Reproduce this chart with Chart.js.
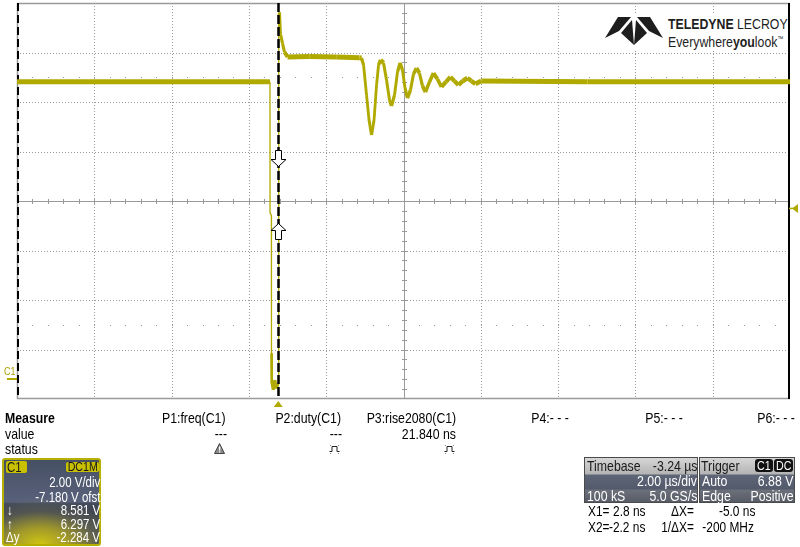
<!DOCTYPE html>
<html>
<head>
<meta charset="utf-8">
<script src="https://cdn.jsdelivr.net/npm/chart.js@4.4.1/dist/chart.umd.min.js"></script>
<style>
  html,body{margin:0;padding:0;background:#fff;}
  #wrap{position:relative;width:800px;height:547px;overflow:hidden;background:#fff;}
  #c{position:absolute;left:0;top:0;}
  .t{position:absolute;white-space:nowrap;font-family:"Liberation Sans Narrow","Arial Narrow",sans-serif;line-height:16px;color:#000;}
  .fb .t{font-family:"Liberation Sans",Arial,sans-serif;transform:scaleX(0.82);}
  .fb .t.l{transform-origin:left center;}
  .fb .t.r{transform-origin:right center;}
  .box{position:absolute;box-sizing:border-box;}
  .w{color:#fff;}
</style>
</head>
<body>
<div id="wrap">
  <canvas id="c" width="800" height="547"></canvas>

  <!-- logo -->
  <div class="box" style="left:600px;top:13px;width:188px;height:37px;background:#fff;"></div>
  <svg class="box" style="left:0;top:0" width="800" height="60">
    <g fill="#1e1e1e">
      <polygon points="605,38 618,17 631,17 619,31"/>
      <polygon points="621,33 632,20 634,45"/>
      <polygon points="663,38 650,17 637,17 649,31"/>
      <polygon points="647,33 636,20 634,45"/>
    </g>
  </svg>
  <div class="t l" style="left:668px;top:16px;font-size:15px;color:#1e1e1e;"><b>TELEDYNE</b> LECROY</div>
  <div class="t l" style="left:668px;top:31px;font-size:15px;color:#1e1e1e;">Everywhere<b>you</b>look<span style="font-size:7px;vertical-align:6px">™</span></div>

  <!-- channel ground label -->
  <div class="t l" style="left:4px;top:365px;font-size:11px;line-height:12px;color:#a8a000;">C1</div>

  <!-- measure table -->
  <div class="t l" style="left:5px;top:410px;font-size:15px;font-weight:bold;">Measure</div>
  <div class="t r" style="right:574px;top:410px;font-size:15px;">P1:freq(C1)</div>
  <div class="t r" style="right:459px;top:410px;font-size:15px;">P2:duty(C1)</div>
  <div class="t r" style="right:344px;top:410px;font-size:15px;">P3:rise2080(C1)</div>
  <div class="t r" style="right:231px;top:410px;font-size:15px;">P4:- - -</div>
  <div class="t r" style="right:117px;top:410px;font-size:15px;">P5:- - -</div>
  <div class="t r" style="right:5px;top:410px;font-size:15px;">P6:- - -</div>

  <div class="t l" style="left:5px;top:426px;font-size:15px;">value</div>
  <div class="t r" style="right:573px;top:426px;font-size:15px;">---</div>
  <div class="t r" style="right:458px;top:426px;font-size:15px;">---</div>
  <div class="t r" style="right:344px;top:426px;font-size:15px;">21.840 ns</div>

  <div class="t l" style="left:5px;top:441px;font-size:15px;">status</div>
  <svg class="box" style="left:214px;top:443px" width="11" height="11">
    <polygon points="5.5,0.5 10.5,10.5 0.5,10.5" fill="#8a8a8a" stroke="#444" stroke-width="1"/>
    <rect x="5" y="3.5" width="1.3" height="4" fill="#fff"/>
    <rect x="5" y="8.3" width="1.3" height="1.2" fill="#fff"/>
  </svg>
  <svg class="box" style="left:329px;top:444px" width="11" height="10">
    <path d="M0.5,7.5 H3 V2.5 H8 V7.5 H10.5" stroke="#222" fill="none" stroke-width="1"/>
    <rect x="1" y="1" width="1" height="1" fill="#888"/><rect x="9" y="1" width="1" height="1" fill="#888"/>
    <rect x="1" y="9" width="1" height="1" fill="#888"/><rect x="9" y="9" width="1" height="1" fill="#888"/>
  </svg>
  <svg class="box" style="left:444px;top:444px" width="11" height="10">
    <path d="M0.5,7.5 H3 V2.5 H8 V7.5 H10.5" stroke="#222" fill="none" stroke-width="1"/>
    <rect x="1" y="1" width="1" height="1" fill="#888"/><rect x="9" y="1" width="1" height="1" fill="#888"/>
    <rect x="1" y="9" width="1" height="1" fill="#888"/><rect x="9" y="9" width="1" height="1" fill="#888"/>
  </svg>

  <!-- C1 channel box -->
  <div class="box" style="left:2px;top:458px;width:99px;height:88px;border:2px solid #b8b000;border-radius:3px;
       background:
        radial-gradient(ellipse 85% 55% at 38% 100%, rgba(206,196,18,1) 0%, rgba(176,166,36,0.85) 35%, rgba(120,118,80,0.35) 70%, rgba(60,64,76,0) 100%),
        linear-gradient(to bottom,#465064 0%,#58617a 50%,#434a5a 52%,#3e4452 62%,#55584e 100%);"></div>
  <div class="box" style="left:6px;top:461px;width:21px;height:12px;background:#c9c100;border-radius:2px;"></div>
  <div class="t l" style="left:7px;top:459px;font-size:14px;color:#1a1a1a;">C1</div>
  <div class="box" style="left:66px;top:462px;width:33px;height:10px;background:#c9c100;border-radius:2px;"></div>
  <div class="t r" style="right:702px;top:459px;font-size:13px;color:#1a1a1a;">DC1M</div>
  <div class="t r w" style="right:700px;top:474px;font-size:14px;">2.00 V/div</div>
  <div class="t r w" style="right:700px;top:489px;font-size:14px;">-7.180 V ofst</div>
  <div class="t l w" style="left:7px;top:502px;font-size:14px;">↓</div>
  <div class="t r w" style="right:700px;top:502px;font-size:14px;">8.581 V</div>
  <div class="t l w" style="left:7px;top:516px;font-size:14px;">↑</div>
  <div class="t r w" style="right:700px;top:516px;font-size:14px;">6.297 V</div>
  <div class="t l w" style="left:6px;top:529px;font-size:14px;">Δy</div>
  <div class="t r w" style="right:700px;top:529px;font-size:14px;">-2.284 V</div>

  <!-- Timebase box -->
  <div class="box" style="left:584px;top:457px;width:114px;height:46px;border:1px solid #4a4a4a;
       background:linear-gradient(to bottom,#d6d6d6 0px,#b4b4b4 16px,#5d6576 17px,#525a6b 31px,#6b707a 32px,#555a64 45px);"></div>
  <div class="t l" style="left:587px;top:458px;font-size:15px;color:#1a1a1a;">Timebase</div>
  <div class="t r" style="right:103px;top:458px;font-size:15px;color:#1a1a1a;">-3.24 µs</div>
  <div class="t r w" style="right:103px;top:473px;font-size:15px;">2.00 µs/div</div>
  <div class="t l w" style="left:587px;top:488px;font-size:15px;">100 kS</div>
  <div class="t r w" style="right:103px;top:488px;font-size:15px;">5.0 GS/s</div>

  <!-- Trigger box -->
  <div class="box" style="left:699px;top:457px;width:96px;height:46px;border:1px solid #4a4a4a;
       background:linear-gradient(to bottom,#d6d6d6 0px,#b4b4b4 16px,#5d6576 17px,#525a6b 31px,#6b707a 32px,#555a64 45px);"></div>
  <div class="t l" style="left:701px;top:458px;font-size:15px;color:#1a1a1a;">Trigger</div>
  <div class="box" style="left:755px;top:459px;width:18px;height:13px;background:#111;border-radius:3px;"></div>
  <div class="box" style="left:774px;top:459px;width:19px;height:13px;background:#111;border-radius:3px;"></div>
  <div class="t l w" style="left:757px;top:458px;font-size:13px;">C1</div>
  <div class="t l w" style="left:776px;top:458px;font-size:13px;">DC</div>
  <div class="t l w" style="left:702px;top:473px;font-size:15px;">Auto</div>
  <div class="t r w" style="right:7px;top:473px;font-size:15px;">6.88 V</div>
  <div class="t l w" style="left:702px;top:488px;font-size:15px;">Edge</div>
  <div class="t r w" style="right:6px;top:488px;font-size:15px;">Positive</div>

  <!-- cursor readouts -->
  <div class="t l" style="left:588px;top:503px;font-size:14.5px;">X1=</div>
  <div class="t r" style="right:155px;top:503px;font-size:14.5px;">2.8 ns</div>
  <div class="t r" style="right:106px;top:503px;font-size:14.5px;">ΔX=</div>
  <div class="t r" style="right:45px;top:503px;font-size:14.5px;">-5.0 ns</div>
  <div class="t l" style="left:588px;top:519px;font-size:14.5px;">X2=</div>
  <div class="t r" style="right:155px;top:519px;font-size:14.5px;">-2.2 ns</div>
  <div class="t r" style="right:106px;top:519px;font-size:14.5px;">1/ΔX=</div>
  <div class="t r" style="right:46px;top:519px;font-size:14.5px;">-200 MHz</div>
</div>

<script>
// ---------- scope settings ----------
const timePerDivUs = 2.0;      // 2.00 µs/div
const timebaseDelayUs = -3.24; // trigger 3.24 µs left of centre
const voltsPerDiv = 2.0;       // 2.00 V/div
const offsetV = -7.18;         // -7.180 V ofst
const hDivs = 10, vDivs = 8;
const triggerLevelV = 6.88;
const cursorX1Us = 0.0028, cursorX2Us = -0.0022;
const cursorY1V = 8.581, cursorY2V = 6.297;

// ---------- waveform C1 (time in µs, volts) ----------
const timeUs = [
  -6.76, -0.215,
  -0.213, -0.178, -0.176, -0.17, -0.13, -0.09, -0.05, -0.015,
  0.0, 0.012, 0.035, 0.06, 0.11, 0.16, 0.24, 0.8, 1.5, 2.1,
  2.155, 2.207, 2.284, 2.349, 2.413, 2.478, 2.543, 2.594, 2.646, 2.723,
  2.801, 2.878, 2.930, 3.007, 3.085, 3.150, 3.214, 3.279, 3.343, 3.421,
  3.499, 3.576, 3.653, 3.731, 3.809, 3.912, 4.015, 4.118, 4.222, 4.338,
  4.454, 4.558, 4.661, 4.777, 4.894, 4.997, 5.100, 5.256, 8.0, 13.24
];
const volts = [
  12.0, 12.0,
  6.7, 6.6, 1.0, -0.1, -0.45, -0.05, -0.4, -0.2,
  -0.2, 14.6, 14.8, 13.9, 13.55, 13.2, 13.0, 13.02, 13.0, 12.97,
  12.96, 12.67, 11.46, 10.45, 9.85, 10.45, 11.87, 12.67, 12.88, 12.76,
  12.07, 11.26, 11.02, 11.46, 12.39, 12.76, 12.47, 11.75, 11.34, 11.67,
  12.31, 12.55, 12.35, 11.83, 11.58, 11.99, 12.35, 12.11, 11.79, 11.99,
  12.19, 12.03, 11.87, 12.03, 12.15, 12.03, 11.91, 12.03, 12.0, 12.0
];

const TRACE = '#b0a900';
const GRID = '#9a9a9a';
const tCenter = -timebaseDelayUs;
const tMin = tCenter - hDivs / 2 * timePerDivUs;
const tMax = tCenter + hDivs / 2 * timePerDivUs;
const vCenter = -offsetV;
const vMin = vCenter - vDivs / 2 * voltsPerDiv;
const vMax = vCenter + vDivs / 2 * voltsPerDiv;

// font fallback detection
(function(){
  const c = document.createElement('canvas').getContext('2d');
  c.font = '20px monospace'; const w1 = c.measureText('abcdefghijMWxyz').width;
  c.font = '20px "Liberation Sans Narrow", monospace'; const w2 = c.measureText('abcdefghijMWxyz').width;
  if (Math.abs(w1 - w2) < 0.01) document.getElementById('wrap').classList.add('fb');
})();

function line(ctx, x1, y1, x2, y2){ ctx.beginPath(); ctx.moveTo(x1, y1); ctx.lineTo(x2, y2); ctx.stroke(); }

const scopePlugin = {
  id: 'scope',
  beforeDatasetsDraw(chart){
    const {ctx, chartArea: a, scales: {x, y}} = chart;
    const px = v => Math.round(x.getPixelForValue(v)) + 0.5;
    const py = v => Math.round(y.getPixelForValue(v)) + 0.5;
    ctx.save();
    ctx.lineWidth = 1; ctx.strokeStyle = GRID;
    ctx.setLineDash([1, 2]);
    for (let k = 1; k < hDivs; k++) { if (k === hDivs / 2) continue; const X = px(tMin + k * timePerDivUs); line(ctx, X, a.top, X, a.bottom); }
    for (let k = 1; k < vDivs; k++) { if (k === vDivs / 2) continue; const Y = py(vMin + k * voltsPerDiv); line(ctx, a.left, Y, a.right, Y); }
    ctx.setLineDash([]);
    const cx = px(tCenter), cy = py(vCenter);
    line(ctx, a.left, cy, a.right, cy);
    line(ctx, cx, a.top, cx, a.bottom);
    for (let k = 1; k < hDivs * 5; k++) { const X = px(tMin + k * timePerDivUs / 5); line(ctx, X, cy - 2.5, X, cy + 2.5); }
    for (let k = 1; k < vDivs * 5; k++) { const Y = py(vMin + k * voltsPerDiv / 5); line(ctx, cx - 2.5, Y, cx + 2.5, Y); }
    // dot rows at +/- 2.5 div
    ctx.fillStyle = GRID;
    for (const dv of [-2.5, 2.5]) {
      const Y = Math.round(y.getPixelForValue(vCenter + dv * voltsPerDiv));
      for (let k = 1; k < hDivs * 5; k++) { const X = Math.round(x.getPixelForValue(tMin + k * timePerDivUs / 5)); ctx.fillRect(X, Y, 1, 1); }
    }
    // borders
    ctx.strokeStyle = GRID; ctx.lineWidth = 1.5;
    line(ctx, a.left, a.top + 0.5, a.right, a.top + 0.5);
    line(ctx, a.left, a.bottom - 0.5, a.right, a.bottom - 0.5);
    line(ctx, a.left + 0.5, a.top, a.left + 0.5, a.bottom);
    ctx.strokeStyle = '#000'; ctx.lineWidth = 2;
    ctx.setLineDash([8, 4]);
    line(ctx, a.left + 1, a.top, a.left + 1, a.bottom);
    ctx.setLineDash([]);
    line(ctx, a.right - 1, a.top, a.right - 1, a.bottom);
    ctx.restore();
  },
  afterDatasetsDraw(chart){
    const {ctx, chartArea: a, scales: {x, y}} = chart;
    ctx.save();
    // cursors
    ctx.strokeStyle = '#000'; ctx.lineWidth = 2; ctx.setLineDash([9, 3]);
    for (const t of [cursorX1Us, cursorX2Us]) {
      const X = Math.round(x.getPixelForValue(t)) + 0.5;
      line(ctx, X, a.top, X, a.bottom);
    }
    ctx.setLineDash([]);
    const cxp = Math.round(x.getPixelForValue(cursorX1Us)) + 0.5;
    function arrow(tipY, dir){ // dir=+1 pointing down, -1 up
      const s = dir;
      ctx.beginPath();
      ctx.moveTo(cxp, tipY);
      ctx.lineTo(cxp + 7.5, tipY - s * 7);
      ctx.lineTo(cxp + 3, tipY - s * 7);
      ctx.lineTo(cxp + 3, tipY - s * 16);
      ctx.lineTo(cxp - 3, tipY - s * 16);
      ctx.lineTo(cxp - 3, tipY - s * 7);
      ctx.lineTo(cxp - 7.5, tipY - s * 7);
      ctx.closePath();
      ctx.fillStyle = '#fff'; ctx.fill();
      ctx.strokeStyle = '#000'; ctx.lineWidth = 1; ctx.stroke();
    }
    arrow(Math.round(y.getPixelForValue(cursorY1V)) + 0.5, 1);
    arrow(Math.round(y.getPixelForValue(cursorY2V)) + 0.5, -1);
    // trigger time marker (bottom)
    ctx.fillStyle = TRACE;
    const tx = x.getPixelForValue(0);
    ctx.beginPath(); ctx.moveTo(tx, a.bottom + 2); ctx.lineTo(tx + 4.5, a.bottom + 8); ctx.lineTo(tx - 4.5, a.bottom + 8); ctx.closePath(); ctx.fill();
    // trigger level marker (right)
    const ty = y.getPixelForValue(triggerLevelV);
    ctx.beginPath(); ctx.moveTo(a.right + 2, ty); ctx.lineTo(a.right + 8, ty - 4.5); ctx.lineTo(a.right + 8, ty + 4.5); ctx.closePath(); ctx.fill();
    ctx.strokeStyle = TRACE; ctx.lineWidth = 1.5;
    line(ctx, a.right - 1, ty, a.right + 3, ty);
    // channel ground marker (left)
    const gy = Math.round(y.getPixelForValue(0));
    ctx.fillRect(7, gy - 1, 10, 2);
    ctx.restore();
  }
};

new Chart(document.getElementById('c'), {
  type: 'line',
  data: {
    datasets: [{
      data: timeUs.map((t, i) => ({x: t, y: volts[i]})),
      borderColor: TRACE,
      borderWidth: 5,
      borderJoinStyle: 'round',
      borderCapStyle: 'butt',
      pointRadius: 0,
      tension: 0,
      fill: false,
      segment: {
        borderWidth: c => {
          const dx = Math.abs(c.p1.x - c.p0.x), dy = Math.abs(c.p1.y - c.p0.y);
          const t0 = timeUs[c.p0DataIndex], t1 = timeUs[c.p1DataIndex];
          if (t0 >= -0.2135 && t1 <= -0.1765) return 1.3;
          if (dx < 1.5 && dy > 40) return 1.3;
          const len = Math.hypot(dx, dy) || 1;
          return 2.6 + 2.4 * (dx / len);
        }
      }
    }]
  },
  options: {
    responsive: false,
    animation: false,
    events: [],
    layout: {padding: {left: 17, top: 3, right: 10, bottom: 148}},
    scales: {
      x: {type: 'linear', min: tMin, max: tMax, display: false},
      y: {type: 'linear', min: vMin, max: vMax, display: false}
    },
    plugins: {legend: {display: false}, tooltip: {enabled: false}}
  },
  plugins: [scopePlugin]
});
</script>
</body>
</html>
